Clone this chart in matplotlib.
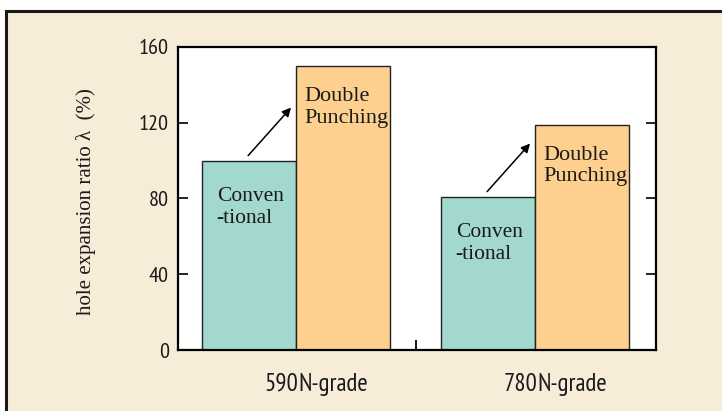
import matplotlib
matplotlib.use("Agg")
import matplotlib.pyplot as plt
from matplotlib.patches import Rectangle
from matplotlib.transforms import offset_copy
import numpy as np
import logging
logging.getLogger("matplotlib.font_manager").setLevel(logging.ERROR)

grades = ["590", "780"]
grade_suffix = "N-grade"
conventional = [100, 81]
double_punching = [150, 119]
yticks = [0, 40, 80, 120, 160]
ylabel = "hole expansion ratio λ  (%)"
label_conv = "Conven\n-tional"
label_dp = "Double\nPunching"

teal = "#A3D8CF"
orange = "#FDD08F"
beige = "#F7ECD7"

SANS = ["PT Sans Narrow", "Roboto Condensed", "Fira Sans Condensed",
        "IBM Plex Sans Condensed", "Liberation Sans", "DejaVu Sans"]
SERIF = ["Liberation Serif", "DejaVu Serif"]

fig = plt.figure(figsize=(7.22, 4.11), dpi=100, facecolor="white")
frame = Rectangle((6 / 722, -0.2), 1.3, 0.2 + (411 - 11) / 411,
                  transform=fig.transFigure, facecolor=beige,
                  edgecolor="#1a1a1a", lw=2.2, zorder=-5)
fig.patches.append(frame)

ax = fig.add_axes([178 / 722, (411 - 350) / 411, (656 - 178) / 722, (350 - 47) / 411])
ax.set_zorder(2)
ax.set_facecolor("white")

x = np.arange(len(grades))
w = 0.393
ax.bar(x - w / 2, conventional, width=w, color=teal, edgecolor="#222222", lw=1.0, zorder=2)
ax.bar(x + w / 2, double_punching, width=w, color=orange, edgecolor="#222222", lw=1.0, zorder=2)

ax.set_xlim(-0.494, 1.506)
ax.set_ylim(0, 160)
ax.set_yticks(yticks)
ax.set_yticklabels([str(t) for t in yticks], family=SANS, fontsize=16, color="#1a1a1a")
ax.tick_params(axis="y", direction="in", length=7, width=1.2, pad=6.5,
               left=True, right=True, labelleft=True, labelright=False)
ax.set_xticks([0.5])
ax.set_xticklabels([""])
ax.tick_params(axis="x", direction="in", length=7.2, width=1.3)
for s in ax.spines.values():
    s.set_linewidth(1.6)
    s.set_color("black")
    s.set_zorder(3)

ax.set_ylabel(ylabel, family=SERIF, fontsize=15, color="#1a1a1a")
ax.yaxis.set_label_coords(-0.172, 0.49)

head_tr = offset_copy(ax.transData, fig=fig, x=30.2, y=38.2, units="points")
tail_tr = offset_copy(ax.transData, fig=fig, x=-0.7, y=3.6, units="points")

for i in range(len(grades)):
    ax.annotate(label_conv, xy=(x[i] - w, conventional[i]), xytext=(10.5, -19),
                textcoords="offset points", ha="left", va="top",
                family=SERIF, fontsize=15.5, linespacing=1.2, color="#1a1a1a")
    ax.annotate(label_dp, xy=(x[i], double_punching[i]), xytext=(6, -15.5),
                textcoords="offset points", ha="left", va="top",
                family=SERIF, fontsize=16, linespacing=1.15, color="#1a1a1a")
    tail = (x[i] - w / 2, conventional[i])
    ax.annotate("", xy=tail, xycoords=head_tr, xytext=tail, textcoords=tail_tr,
                arrowprops=dict(arrowstyle="-|>", color="black", lw=1.1,
                                mutation_scale=13, shrinkA=0, shrinkB=0))
    ax.annotate(grades[i], xy=(x[i], 0), xytext=(1.5, -16.5), textcoords="offset points",
                ha="right", va="top", family=SANS, fontsize=18, color="#1a1a1a",
                annotation_clip=False)
    ax.annotate(grade_suffix, xy=(x[i], 0), xytext=(1.5, -16.5), textcoords="offset points",
                ha="left", va="top", family=SANS, fontsize=18, color="#1a1a1a",
                annotation_clip=False)

fig.savefig("out.png", dpi=100, facecolor="white")
